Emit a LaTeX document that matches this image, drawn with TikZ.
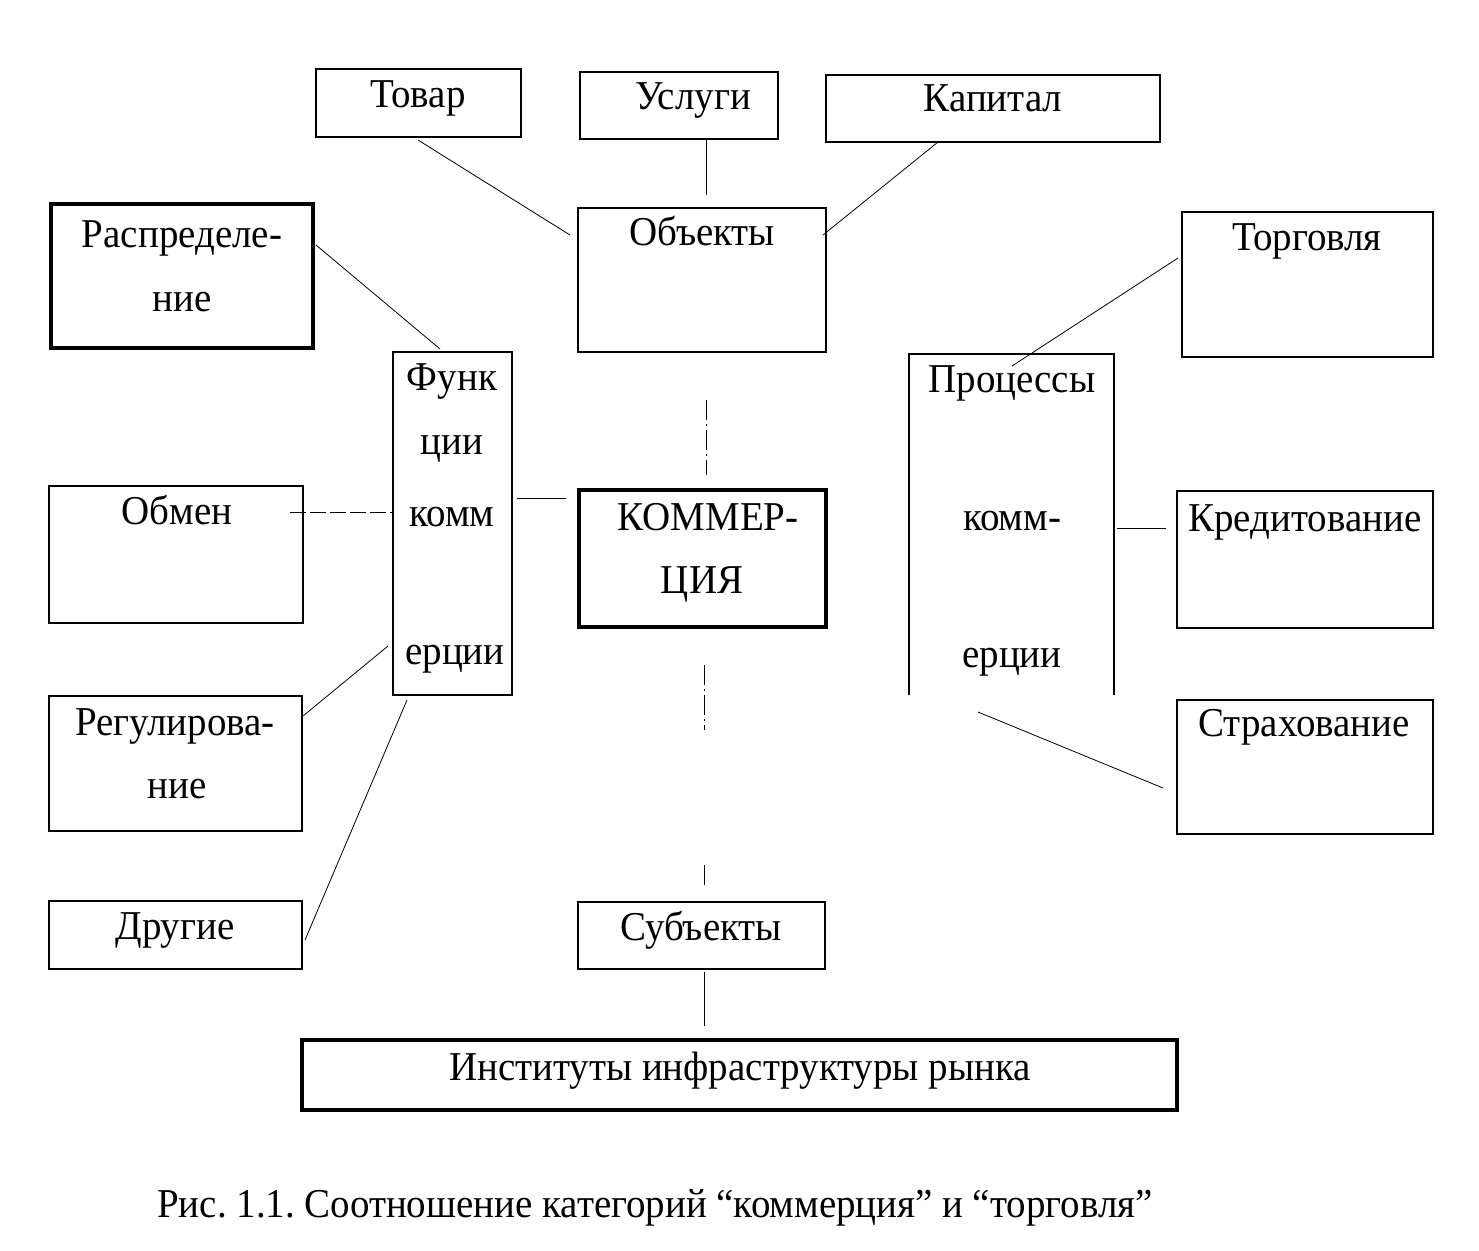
\documentclass[tikz,border=0pt]{standalone}
\usepackage{fontspec}
\setmainfont{Liberation Serif}[FakeStretch=0.95]
\usetikzlibrary{fit}
\frenchspacing
\begin{document}
\begin{tikzpicture}[x=0.5pt,y=-0.5pt,
  box/.style={draw, line width=1pt, inner sep=0pt},
  thickbox/.style={draw, line width=1.6pt, inner sep=0pt},
  lbl/.style={anchor=base, inner sep=0pt, font=\fontsize{20.5}{24}\selectfont},
  conn/.style={line width=0.4pt},
  dconn/.style={line width=0.5pt, dash pattern=on 10pt off 2pt on 1pt off 2pt}]
\fill[white] (0,0) rectangle (1479,1250);
\useasboundingbox (0,0) rectangle (1479,1250);
% boxes
\node[box, fit={(316,69) (521,137)}] (tovar) {};
\node[box, fit={(580,72) (778,139)}] (usl) {};
\node[box, fit={(826,75) (1160,142)}] (kap) {};
\node[box, fit={(578,208) (826,352)}] (obj) {};
\node[thickbox, fit={(51,204) (313,348)}] (raspr) {};
\node[box, fit={(393,352) (512,695)}] (func) {};
\node[box, fit={(49,486) (303,623)}] (obmen) {};
\node[thickbox, fit={(579,490) (826,627)}] (komm) {};
\node[box, fit={(49,696) (302,831)}] (regul) {};
\node[box, fit={(49,901) (302,969)}] (drug) {};
\node[box, fit={(578,902) (825,969)}] (subj) {};
\node[thickbox, fit={(302,1040) (1177,1110)}] (inst) {};
\node[box, fit={(1182,212) (1433,357)}] (torg) {};
\node[inner sep=0pt, fit={(909,354) (1114,695)}] (proc) {};
\draw[line width=1pt] (proc.south west) -- (proc.north west) -- (proc.north east) -- (proc.south east);
\node[box, fit={(1177,491) (1433,628)}] (kred) {};
\node[box, fit={(1177,700) (1433,834)}] (strah) {};
% texts
\node[lbl] (tovar-t) at (418,107) {Товар};
\node[lbl] (usl-t) at (693,109) {Услуги};
\node[lbl] (kap-t) at (993,111) {Капитал};
\node[lbl] (obj-t) at (702,245) {Объекты};
\node[lbl] (raspr-t1) at (182,247) {Распределе-};
\node[lbl] (raspr-t2) at (182,311) {ние};
\node[lbl] (func-t1) at (452,390) {Функ};
\node[lbl] (func-t2) at (452,454) {ции};
\node[lbl] (func-t3) at (452,526) {комм};
\node[lbl] (func-t4) at (455,664) {ерции};
\node[lbl] (obmen-t) at (177,524) {Обмен};
\node[lbl] (komm-t1) at (708,530) {КОММЕР-};
\node[lbl] (komm-t2) at (702,593) {ЦИЯ};
\node[lbl] (regul-t1) at (175,735) {Регулирова-};
\node[lbl] (regul-t2) at (177,798) {ние};
\node[lbl] (drug-t) at (175,939) {Другие};
\node[lbl] (subj-t) at (701,940) {Субъекты};
\node[lbl] (inst-t) at (740,1080) {Институты инфраструктуры рынка};
\node[lbl] (torg-t) at (1307,250) {Торговля};
\node[lbl] (proc-t1) at (1012,392) {Процессы};
\node[lbl] (proc-t2) at (1012,530) {комм-};
\node[lbl] (proc-t3) at (1012,667) {ерции};
\node[lbl] (kred-t) at (1305,531) {Кредитование};
\node[lbl] (strah-t) at (1304,736) {Страхование};
\node[lbl] (caption) at (655,1217) {Рис. 1.1. Соотношение категорий “коммерция” и “торговля”};
% free ends
\coordinate (a1) at (418,140);
\coordinate (a2) at (570,235);
\coordinate (b1) at (706,139);
\coordinate (b2) at (706,195);
\coordinate (c1) at (938,142);
\coordinate (c2) at (823,235);
\coordinate (d1) at (316,245);
\coordinate (d2) at (440,349);
\coordinate (e1) at (290,512);
\coordinate (e2) at (393,512);
\coordinate (f1) at (517,498);
\coordinate (f2) at (566,498);
\coordinate (g1) at (706,400);
\coordinate (g2) at (706,475);
\coordinate (h1) at (704,665);
\coordinate (h2) at (704,730);
\coordinate (h3) at (704,865);
\coordinate (h4) at (704,888);
\coordinate (i1) at (303,716);
\coordinate (i2) at (388,646);
\coordinate (j1) at (305,940);
\coordinate (j2) at (407,700);
\coordinate (k1) at (704,972);
\coordinate (k2) at (704,1026);
\coordinate (l1) at (1178,258);
\coordinate (l2) at (1012,366);
\coordinate (m1) at (1117,528);
\coordinate (m2) at (1166,528);
\coordinate (n1) at (1163,788);
\coordinate (n2) at (978,712);
% connectors
\draw[conn] (a1) -- (a2);
\draw[conn] (b1) -- (b2);
\draw[conn] (c1) -- (c2);
\draw[conn] (d1) -- (d2);
\draw[conn, dash pattern=on 8pt off 2pt] (e1) -- (e2);
\draw[conn] (f1) -- (f2);
\draw[dconn] (g1) -- (g2);
\draw[dconn] (h1) -- (h2);
\draw[dconn] (h3) -- (h4);
\draw[conn] (i1) -- (i2);
\draw[conn] (j1) -- (j2);
\draw[conn] (k1) -- (k2);
\draw[conn] (l1) -- (l2);
\draw[conn] (m1) -- (m2);
\draw[conn] (n1) -- (n2);
\end{tikzpicture}
\end{document}
